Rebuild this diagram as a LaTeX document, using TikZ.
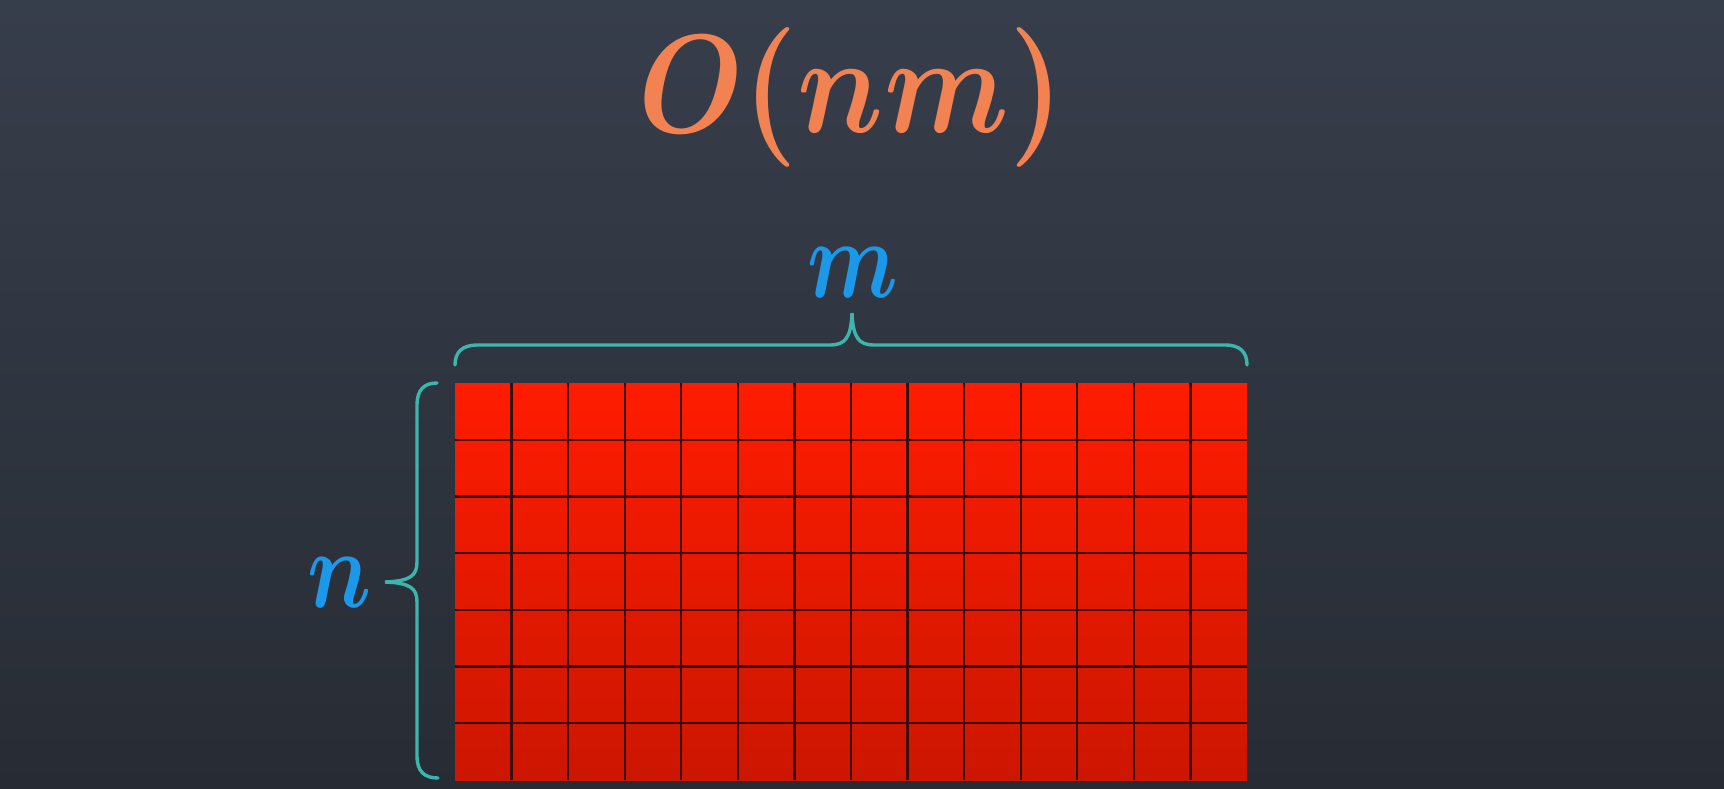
\documentclass[tikz,border=0pt]{standalone}
\usepackage{graphicx}
\definecolor{bgtop}{RGB}{55,62,75}
\definecolor{bgbot}{RGB}{39,44,52}
\definecolor{titleorange}{RGB}{242,130,82}
\definecolor{varblue}{RGB}{28,152,232}
\definecolor{braceteal}{RGB}{60,182,172}
\definecolor{redtop}{RGB}{255,28,0}
\definecolor{redbot}{RGB}{204,22,0}
\definecolor{gridcol}{RGB}{60,12,6}
\begin{document}
\begin{tikzpicture}[x=1pt,y=1pt,
  bracestyle/.style={draw=braceteal, line width=3.4pt, line cap=round},
  gridline/.style={draw=gridcol, line width=2.2pt},
  varlabel/.style={text=varblue, inner sep=0pt, anchor=base},
  titlestyle/.style={text=titleorange, inner sep=0pt, anchor=base}]
\shade[top color=bgtop, bottom color=bgbot] (0,0) rectangle (1724,-789);
\useasboundingbox (0,0) rectangle (1724,-789);
% title
\node[titlestyle] (title) at (851,-133) {\scalebox{12.1}[14.0]{\boldmath$O(nm)$}};
% grid
\coordinate (gnw) at (455,-383);
\coordinate (gse) at (1247,-780);
\shade[top color=redtop, bottom color=redbot] (gnw) rectangle (gse);
\foreach \i in {1,...,13} \draw[gridline] ({455+\i*792/14},-383) -- ({455+\i*792/14},-780);
\foreach \j in {1,...,6} \draw[gridline] (455,{-383-\j*397/7}) -- (1247,{-383-\j*397/7});
% top brace
\coordinate (mtip) at (852,-313);
\draw[bracestyle] (455,-365) .. controls (455,-352) and (462,-345) .. (478,-345) -- (830,-345)
  .. controls (845,-345) and (851,-338) .. (mtip)
  .. controls (853,-338) and (859,-345) .. (874,-345) -- (1225,-345)
  .. controls (1240,-345) and (1247,-352) .. (1247,-365);
\node[varlabel] (mlabel) at (853,-297) {\scalebox{8.8}[11.2]{\boldmath$m$}};
% left brace
\coordinate (ntip) at (385,-582);
\draw[bracestyle] (437,-383) .. controls (424,-383) and (417,-390) .. (417,-405) -- (417,-562)
  .. controls (417,-576) and (410,-581) .. (ntip)
  .. controls (410,-583) and (417,-588) .. (417,-602) -- (417,-756)
  .. controls (417,-771) and (424,-778) .. (438,-778);
\node[varlabel] (nlabel) at (340,-607) {\scalebox{9.0}[11.2]{\boldmath$n$}};
\end{tikzpicture}
\end{document}
